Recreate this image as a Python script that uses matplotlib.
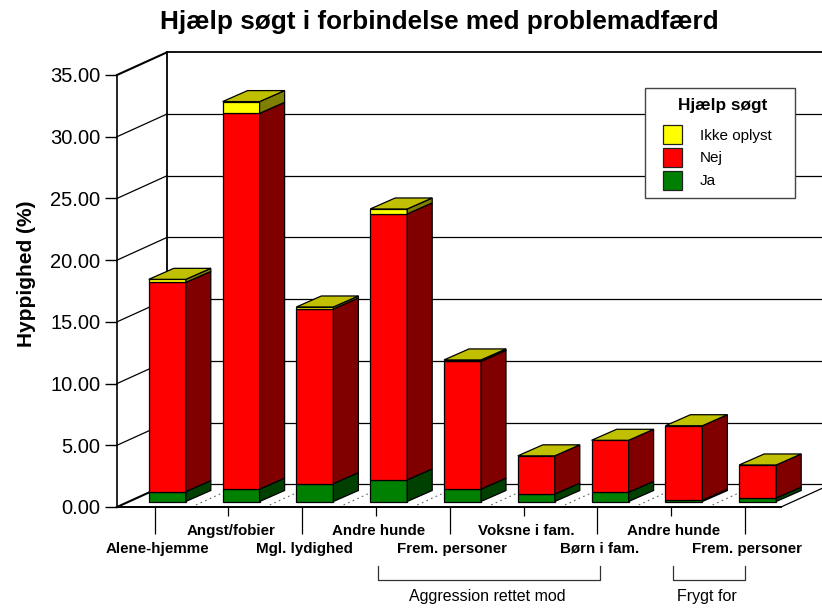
import matplotlib
matplotlib.use("Agg")
import matplotlib.pyplot as plt
from matplotlib.patches import Polygon, Patch, Rectangle
from matplotlib.transforms import ScaledTranslation

plt.rcParams['font.family'] = ['Liberation Sans', 'DejaVu Sans']

# ---- data ----
categories = ["Alene-hjemme", "Angst/fobier", "Mgl. lydighed", "Andre hunde",
              "Frem. personer", "Voksne i fam.", "Børn i fam.", "Andre hunde",
              "Frem. personer"]
ja = [0.80, 1.00, 1.45, 1.75, 1.00, 0.60, 0.75, 0.10, 0.28]
nej = [16.95, 30.45, 14.15, 21.55, 10.35, 3.10, 4.21, 6.04, 2.68]
ikke_oplyst = [0.25, 0.95, 0.16, 0.40, 0.12, 0.0, 0.0, 0.0, 0.0]
series_names = ["Ja", "Nej", "Ikke oplyst"]
y_ticks = [0, 5, 10, 15, 20, 25, 30, 35]

front_colors = ["#008000", "#ff0000", "#ffff00"]
side_colors = ["#004000", "#800000", "#808000"]
top_color = "#c0c000"

W, H = 822, 608
PX_X = 73.8          # pixels per category
PX_Y = 432 / 35      # pixels per percent
fig = plt.figure(figsize=(W / 100, H / 100), dpi=100, facecolor="white")
ax = fig.add_axes([117 / W, (H - 507) / H, 664 / W, 432 / H])
ax.set_xlim(-37.5 / PX_X, 626.5 / PX_X)
ax.set_ylim(0, 35)
ax.patch.set_visible(False)

xl, xr = ax.get_xlim()
wall_dx, wall_dy = 50 / PX_X, 22.7 / PX_Y
right_end = xl + 720 / PX_X

# back wall, side wall, floor
for v in y_ticks:
    ax.plot([xl, xl + wall_dx], [v, v + wall_dy], color="black",
            lw=1.5 if v in (0, 35) else 0.9, clip_on=False, zorder=1)
    ax.plot([xl + wall_dx, right_end], [v + wall_dy, v + wall_dy], color="black",
            lw=1.3 if v == 35 else 0.9, clip_on=False, zorder=1)
ax.plot([xl + wall_dx, xl + wall_dx], [wall_dy, 35 + wall_dy], color="black",
        lw=1.3, clip_on=False, zorder=1)
ax.plot([xr, xr + wall_dx], [0, wall_dy], color="black", lw=0.9, clip_on=False, zorder=1)
for i in range(len(categories) - 1):
    ax.plot([i + 0.5, i + 0.5 + wall_dx], [0, wall_dy], color="#666666", lw=0.8,
            ls=(0, (1.5, 3)), clip_on=False, zorder=1.5)

# bars
bar_w = 37 / PX_X
bar_left = -5.7 / PX_X
y0 = 5.5 / PX_Y
dx, dy = 25 / PX_X, 11 / PX_Y
edge = dict(edgecolor="black", linewidth=0.9, clip_on=False)
for i in range(len(categories)):
    x0 = i + bar_left
    x1 = x0 + bar_w
    base = y0
    for vals, fc, sc in zip((ja, nej, ikke_oplyst), front_colors, side_colors):
        h = vals[i]
        if h <= 0:
            continue
        ax.bar(x0, h, bar_w, bottom=base, align="edge", color=fc, zorder=3, **edge)
        ax.add_patch(Polygon([(x1, base), (x1 + dx, base + dy), (x1 + dx, base + h + dy),
                              (x1, base + h)], facecolor=sc, zorder=3, **edge))
        base += h
    ax.add_patch(Polygon([(x0, base), (x1, base), (x1 + dx, base + dy), (x0 + dx, base + dy)],
                         facecolor=top_color, zorder=3, **edge))

# axes
for s in ("top", "right"):
    ax.spines[s].set_visible(False)
ax.spines["left"].set_linewidth(1.2)
ax.spines["bottom"].set_linewidth(1.4)
ax.spines["bottom"].set_zorder(4)
ax.set_yticks(y_ticks)
ax.set_yticklabels([f"{v:.2f}" for v in y_ticks], fontsize=14.5)
ax.tick_params(axis="y", length=8.6, width=1.0, pad=3.5)
ax.set_ylabel("Hyppighed (%)", fontsize=15, fontweight="bold", labelpad=0)
ax.yaxis.set_label_coords(-81 / 664, 0.54)

pos = list(range(len(categories)))
ax.set_xticks(pos[0::2])
ax.set_xticklabels(categories[0::2], fontsize=10.9, fontweight="bold")
ax.set_xticks(pos[1::2], minor=True)
ax.set_xticklabels(categories[1::2], minor=True, fontsize=10.9, fontweight="bold")
ax.tick_params(axis="x", which="major", length=19.4, width=0.9, pad=5.5)
ax.tick_params(axis="x", which="minor", length=6.5, width=0.9, pad=5.5)
shift = ScaledTranslation(2.5 / 100, 0, fig.dpi_scale_trans)
for lab in ax.get_xticklabels(which="both"):
    lab.set_transform(lab.get_transform() + shift)

# group brackets (below the axis, in category units and axis-fraction heights)
btrans = ax.get_xaxis_transform()
def bracket(a, b, label):
    ax.plot([a, a, b, b], [-59 / 432, -73 / 432, -73 / 432, -59 / 432], color="#333333",
            lw=0.9, transform=btrans, clip_on=False)
    ax.text((a + b) / 2 - 0.02, -90 / 432, label, transform=btrans, ha="center", va="center",
            fontsize=11.5)
bracket(3.03, 6.04, "Aggression rettet mod")
bracket(7.02, 8.0, "Frygt for")

fig.text(439.5 / W, 1 - 22.5 / H, "Hjælp søgt i forbindelse med problemadfærd", ha="center",
         va="center", fontsize=18.8, fontweight="bold")

# legend: frame and heading placed by hand, entries by the library
ax.add_patch(Rectangle((644.7 / W, 1 - 197.7 / H), 150.6 / W, 109.4 / H, transform=fig.transFigure,
                       facecolor="white", edgecolor="#444444", linewidth=1.0, zorder=4.5,
                       clip_on=False))
handles = [Patch(facecolor=front_colors[k], edgecolor="#222222", linewidth=0.9, label=series_names[k])
           for k in (2, 1, 0)]
leg = ax.legend(handles=handles, loc="upper left",
                bbox_to_anchor=(663 / W, 1 - 125 / H), bbox_transform=fig.transFigure,
                fontsize=11, frameon=False, borderaxespad=0, borderpad=0,
                handlelength=1.242, handleheight=1.534, handletextpad=1.18,
                labelspacing=0.26)
leg.set_zorder(5)
fig.text(723 / W, 1 - 105.7 / H, "Hjælp søgt", ha="center", va="center",
         fontsize=12.4, fontweight="bold")

fig.savefig("out.png", dpi=100)
